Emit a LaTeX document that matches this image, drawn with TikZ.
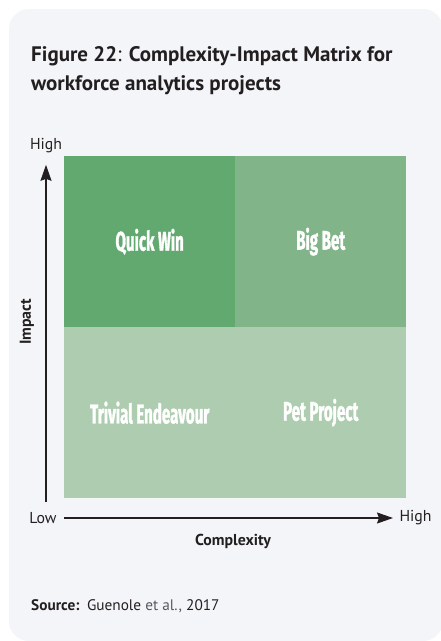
\documentclass[tikz,border=0pt]{standalone}
\usepackage{fontspec}
\setmainfont{PT Sans}
\newfontfamily\quadfont[FakeStretch=0.56, BoldFeatures={FakeBold=1.2}]{Fira Sans}
\usetikzlibrary{arrows.meta,positioning}
\definecolor{panelgrey}{HTML}{F4F5F8}
\definecolor{quickgreen}{HTML}{62A970}
\definecolor{betgreen}{HTML}{82B489}
\definecolor{lowgreen}{HTML}{AECCB0}
\definecolor{inkgrey}{HTML}{231F20}
\definecolor{softgrey}{HTML}{58595B}

\begin{document}
\begin{tikzpicture}[x=1pt, y=-1pt,
					every node/.style={text=inkgrey, font=\fontsize{15.8}{18}\selectfont},
					cell/.style={anchor=north west, inner sep=0pt, minimum width=171pt, minimum height=171pt},
					celltext/.style={text=white, font=\quadfont\bfseries\fontsize{27}{30}\selectfont},
					axis/.style={line width=1.3pt, draw=inkgrey, -{Stealth[length=16pt,width=11pt,inset=2pt]}}]
				\useasboundingbox (0,0) rectangle (441,641);
				\clip (0,0) rectangle (441,641);
				\fill[panelgrey, rounded corners=20pt] (9,9) rectangle (443,641);
				% title
				\node[anchor=base west, inner sep=0pt, font=\bfseries\fontsize{21}{29}\selectfont] (title) at (31,61) {Figure 22{\mdseries:} Complexity-Impact Matrix for};
				\node[anchor=base west, inner sep=0pt, font=\bfseries\fontsize{21}{29}\selectfont] (subtitle) at (31,90) {workforce analytics projects};
				% matrix
				\node[cell, fill=quickgreen] (quick) at (64,156) {};
				\node[cell, fill=betgreen] (bet) at (235,156) {};
				\node[cell, fill=lowgreen, minimum width=342pt] (lowband) at (64,327) {};
				\node[celltext] at (quick) {Quick Win};
				\node[celltext] at (bet) {Big Bet};
				\node[celltext] at (quick |- lowband) {Trivial Endeavour};
				\node[celltext] at (bet |- lowband) {Pet Project};
				% axes
				\node (impacthigh) at (46,146) {High};
				\coordinate (origin) at (46,502);
				\draw[axis, shorten >=8pt] (origin) -- (impacthigh.south);
				\node[rotate=90, font=\bfseries\fontsize{15.8}{18}\selectfont] (impact) at (27,322) {Impact};
				\node[anchor=east] (cxlow) at (60,518) {Low};
				\node[anchor=west] (cxhigh) at (396,518) {High};
				\draw[axis, shorten <=4pt, shorten >=3pt] (cxlow) -- (cxhigh);
				\node[font=\bfseries\fontsize{15.8}{18}\selectfont] (complexity) at (233,541) {Complexity};
				% source
				\node[anchor=base west, inner sep=0pt, font=\fontsize{15.3}{18}\selectfont] (source) at (31,610) {\textbf{Source:}\enspace Guenole {\color{softgrey}et al.,} 2017};
			\end{tikzpicture}
\end{document}
